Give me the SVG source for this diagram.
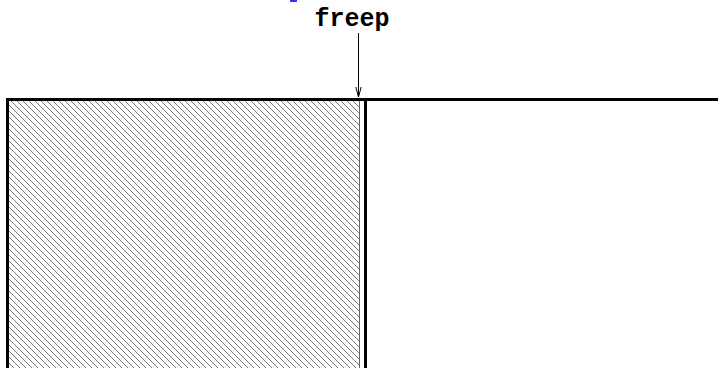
<svg xmlns="http://www.w3.org/2000/svg" width="718" height="368" viewBox="0 0 718 368">
<style>
.thick{stroke:#000;stroke-width:3;fill:none}
.thin{stroke:#000;stroke-width:1;fill:none}
.lbl{font-family:"Liberation Mono",monospace;font-weight:bold;font-size:25px;fill:#000}
</style>
<defs>
<pattern id="hatch" patternUnits="userSpaceOnUse" width="6" height="6">
<path d="M-1,-1 L7,7 M-1,5 L1,7 M5,-1 L7,1" stroke="#555" stroke-width="0.8"/>
</pattern>
<marker id="arr" viewBox="0 0 10 10" refX="10" refY="5" markerWidth="10" markerHeight="10" markerUnits="userSpaceOnUse" orient="auto">
<path d="M0,2.3 L10,5 L0,7.7" fill="none" stroke="#000" stroke-width="1"/>
</marker>
</defs>
<rect x="290" y="0" width="7" height="2" fill="#3333ff"/>
<g id="freed">
<rect x="9" y="101" width="350" height="267" fill="url(#hatch)"/>
<line x1="359.5" y1="101" x2="359.5" y2="368" stroke="#666" stroke-width="1"/>
</g>
<g id="frame">
<path class="thick" d="M7.5,368 L7.5,99.5 L718,99.5"/>
<line class="thick" x1="365.5" y1="99.5" x2="365.5" y2="368"/>
</g>
<g id="label">
<text class="lbl" x="352" y="26" text-anchor="middle">freep</text>
</g>
<g id="connectors">
<line class="thin" x1="358.5" y1="33" x2="358.5" y2="97" marker-end="url(#arr)"/>
</g>
</svg>
